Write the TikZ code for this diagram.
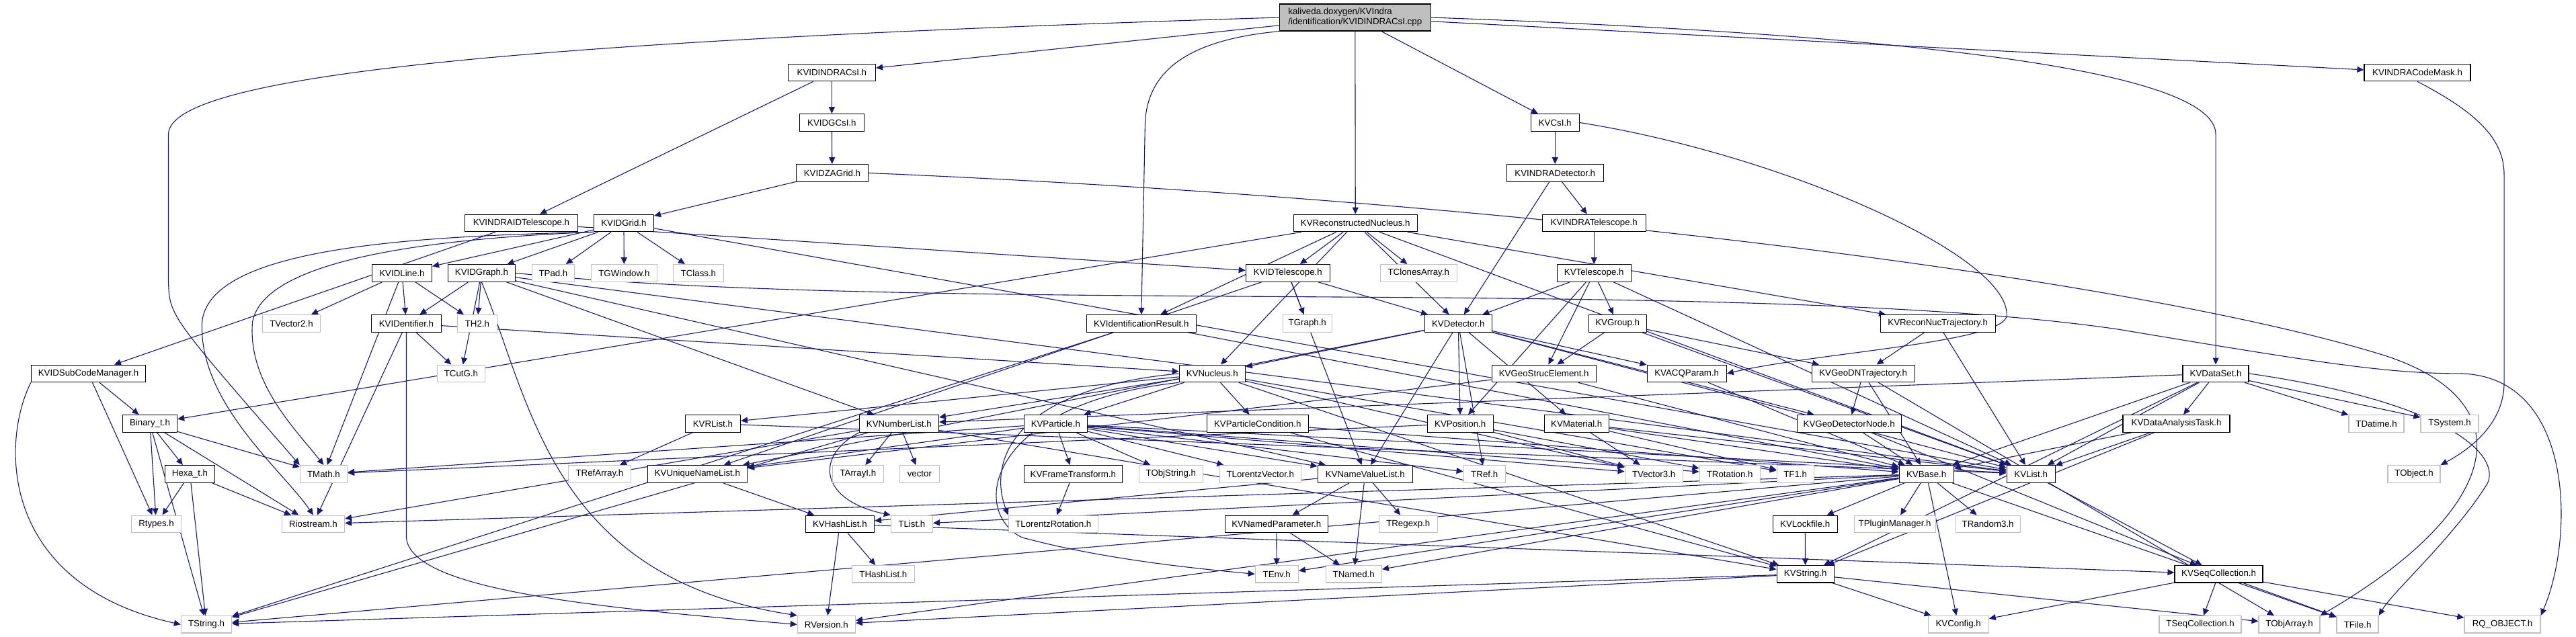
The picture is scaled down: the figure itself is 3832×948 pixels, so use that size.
\documentclass[tikz,border=0pt]{standalone}
\usepackage{fontspec}
\setmainfont{Liberation Sans}
\usetikzlibrary{arrows.meta}
\definecolor{edgec}{RGB}{25,25,112}
\definecolor{greyb}{RGB}{191,191,191}
\newcommand\nfont{\fontsize{13.3}{15}\selectfont}
\pgfdeclarelayer{paper}\pgfdeclarelayer{bg}\pgfsetlayers{paper,bg,main}
\tikzset{
 doc/.style={draw=black, line width=1.3pt, fill=white, inner sep=0pt, minimum height=25.5pt, font=\nfont},
 ext/.style={doc, draw=greyb},
 rootbox/.style={doc, fill=greyb, minimum height=40pt, align=left},
 edge/.style={draw=edgec, line width=1.1pt, -{Triangle[length=10pt,width=9pt]}},
}
\newcommand\nd[6]{\pgfmathsetmacro\ndw{#4-#3}\pgfmathsetmacro\ndx{(#3+#4)/2}\node[#1, minimum width=\ndw pt] (#2) at (\ndx, #5) {#6};}
\begin{document}
\begin{tikzpicture}[x=1pt,y=-1pt]
\begin{pgfonlayer}{paper}
\useasboundingbox[fill=white] (0,0) rectangle (3832,948);
\end{pgfonlayer}
% row 0
\nd{rootbox}{cpp}{1903}{2128}{26}{kaliveda.doxygen/KVIndra\\/identification/KVIDINDRACsI.cpp}
% row 1
\nd{doc}{idindracsi}{1172}{1302}{108}{KVIDINDRACsI.h}
\nd{doc}{codemask}{3517}{3675}{108}{KVINDRACodeMask.h}
% row 2
\nd{doc}{idgcsi}{1189}{1285}{182.5}{KVIDGCsI.h}
\nd{doc}{csi}{2277}{2349}{182.5}{KVCsI.h}
% row 3
\nd{doc}{idzagrid}{1184}{1291}{257.5}{KVIDZAGrid.h}
\nd{doc}{indradet}{2241}{2385}{257.5}{KVINDRADetector.h}
% row 4
\nd{doc}{indraidtel}{691}{859}{332}{KVINDRAIDTelescope.h}
\nd{doc}{idgrid}{883}{972}{332}{KVIDGrid.h}
\nd{doc}{recnuc}{1924}{2108}{332}{KVReconstructedNucleus.h}
\nd{doc}{indratel}{2294}{2448}{332}{KVINDRATelescope.h}
% row 5
\nd{doc}{idline}{553}{642}{406.5}{KVIDLine.h}
\nd{doc}{idgraph}{666}{766}{406.5}{KVIDGraph.h}
\nd{ext}{tpad}{791}{854}{406.5}{TPad.h}
\nd{ext}{tgwindow}{879}{977}{406.5}{TGWindow.h}
\nd{ext}{tclass}{1001}{1076}{406.5}{TClass.h}
\nd{doc}{idtel}{1853}{1978}{406.5}{KVIDTelescope.h}
\nd{ext}{tclonesarray}{2053}{2167}{406.5}{TClonesArray.h}
\nd{doc}{telescope}{2316}{2426}{406.5}{KVTelescope.h}
% row 6
\nd{ext}{tvector2}{390}{476}{481.5}{TVector2.h}
\nd{doc}{identifier}{552}{656}{481.5}{KVIDentifier.h}
\nd{ext}{th2}{680}{739}{481.5}{TH2.h}
\nd{doc}{idresult}{1616}{1779}{481.5}{KVIdentificationResult.h}
\nd{ext}{tgraph}{1908}{1981}{481.5}{TGraph.h}
\nd{doc}{detector}{2119}{2219}{481.5}{KVDetector.h}
\nd{doc}{group}{2363}{2449}{481.5}{KVGroup.h}
\nd{doc}{recnuctraj}{2797}{2968}{481.5}{KVReconNucTrajectory.h}
% row 7
\nd{doc}{subcode}{46}{216}{556}{KVIDSubCodeManager.h}
\nd{ext}{tcutg}{650}{721}{556}{TCutG.h}
\nd{doc}{nucleus}{1754}{1852}{556}{KVNucleus.h}
\nd{doc}{geostruc}{2219}{2374}{556}{KVGeoStrucElement.h}
\nd{doc}{acqparam}{2450}{2568}{556}{KVACQParam.h}
\nd{doc}{geodntraj}{2695}{2848}{556}{KVGeoDNTrajectory.h}
\nd{doc}{dataset}{3247}{3345}{556}{KVDataSet.h}
% row 8
\nd{doc}{binary}{182}{263}{630.5}{Binary\_t.h}
\nd{doc}{rlist}{1019}{1101}{630.5}{KVRList.h}
\nd{doc}{numberlist}{1278}{1396}{630.5}{KVNumberList.h}
\nd{doc}{particle}{1523}{1617}{630.5}{KVParticle.h}
\nd{doc}{partcond}{1795}{1946}{630.5}{KVParticleCondition.h}
\nd{doc}{position}{2123}{2221}{630.5}{KVPosition.h}
\nd{doc}{material}{2297}{2393}{630.5}{KVMaterial.h}
\nd{doc}{geodetnode}{2673}{2828}{630.5}{KVGeoDetectorNode.h}
\nd{doc}{dataanatask}{3158}{3317}{630.5}{KVDataAnalysisTask.h}
\nd{ext}{tdatime}{3494}{3576}{630.5}{TDatime.h}
\nd{ext}{tsystem}{3601}{3687}{630.5}{TSystem.h}
% row 9
\nd{doc}{hexa}{245}{319}{705.5}{Hexa\_t.h}
\nd{ext}{tmath}{446}{516}{705.5}{TMath.h}
\nd{ext}{trefarray}{845}{938}{705.5}{TRefArray.h}
\nd{doc}{uniquenamelist}{963}{1111}{705.5}{KVUniqueNameList.h}
\nd{ext}{tarrayi}{1238}{1314}{705.5}{TArrayI.h}
\nd{ext}{vector}{1338}{1397}{705.5}{vector}
\nd{doc}{frametrans}{1523}{1669}{705.5}{KVFrameTransform.h}
\nd{ext}{tobjstring}{1694}{1789}{705.5}{TObjString.h}
\nd{ext}{tlorentzvector}{1814}{1935}{705.5}{TLorentzVector.h}
\nd{doc}{namevaluelist}{1960}{2101}{705.5}{KVNameValueList.h}
\nd{ext}{tref}{2177}{2239}{705.5}{TRef.h}
\nd{ext}{tvector3}{2417}{2503}{705.5}{TVector3.h}
\nd{ext}{trotation}{2528}{2618}{705.5}{TRotation.h}
\nd{ext}{tf1}{2643}{2698}{705.5}{TF1.h}
\nd{doc}{base}{2825}{2906}{705.5}{KVBase.h}
\nd{doc}{list}{2985}{3057}{705.5}{KVList.h}
\nd{ext}{tobject}{3552}{3630}{705.5}{TObject.h}
% row 10
\nd{ext}{rtypes}{195}{269}{780}{Rtypes.h}
\nd{ext}{riostream}{419}{512}{780}{Riostream.h}
\nd{doc}{hashlist}{1198}{1300}{780}{KVHashList.h}
\nd{ext}{tlist}{1325}{1387}{780}{TList.h}
\nd{ext}{tlorentzrotation}{1500}{1633}{780}{TLorentzRotation.h}
\nd{doc}{namedparam}{1822}{1975}{780}{KVNamedParameter.h}
\nd{ext}{tregexp}{2051}{2138}{780}{TRegexp.h}
\nd{doc}{lockfile}{2637}{2733}{780}{KVLockfile.h}
\nd{ext}{tpluginmanager}{2758}{2879}{780}{TPluginManager.h}
\nd{ext}{trandom3}{2909}{3005}{780}{TRandom3.h}
% row 11
\nd{ext}{thashlist}{1267}{1360}{854.5}{THashList.h}
\nd{ext}{tenv}{1867}{1931}{854.5}{TEnv.h}
\nd{ext}{tnamed}{1972}{2055}{854.5}{TNamed.h}
\nd{doc}{string}{2643}{2728}{854.5}{KVString.h}
\nd{doc}{seqcoll}{3235}{3366}{854.5}{KVSeqCollection.h}
% row 12
\nd{ext}{tstring}{269}{344}{929.5}{TString.h}
\nd{ext}{rversion}{1186}{1272}{929.5}{RVersion.h}
\nd{ext}{config}{2868}{2958}{929.5}{KVConfig.h}
\nd{ext}{tseqcoll}{3212}{3334}{929.5}{TSeqCollection.h}
\nd{ext}{tobjarray}{3360}{3451}{929.5}{TObjArray.h}
\nd{ext}{tfile}{3476}{3538}{929.5}{TFile.h}
\nd{ext}{rqobject}{3666}{3779}{929.5}{RQ\_OBJECT.h}

\begin{pgfonlayer}{bg}
\foreach \a/\b in {cpp/idindracsi, cpp/csi, cpp/codemask, cpp/recnuc,
 idindracsi/idgcsi, idindracsi/indraidtel, idgcsi/idzagrid, csi/indradet, idzagrid/idgrid,
 indradet/indratel, indradet/detector, indraidtel/idtel, indraidtel/subcode,
 idgrid/idline, idgrid/idgraph, idgrid/tpad, idgrid/tgwindow, idgrid/tclass, idgrid/list,
 idline/tvector2, idline/identifier, idline/th2, idline/tmath,
 idgraph/identifier, idgraph/th2, idgraph/tcutg, idgraph/numberlist, idgraph/namevaluelist, idgraph/list,
 identifier/tcutg, identifier/riostream, identifier/nucleus,
 idtel/tgraph, idtel/detector, idtel/uniquenamelist, idtel/namevaluelist,
 recnuc/nucleus, recnuc/idresult, recnuc/idtel, recnuc/tclonesarray, recnuc/detector, recnuc/recnuctraj, recnuc/list, recnuc/binary,
 idresult/tstring, idresult/base, indratel/telescope,
 telescope/detector, telescope/group, telescope/geostruc, telescope/position, telescope/list,
 group/geostruc, group/geodntraj, group/list, recnuctraj/geodntraj, recnuctraj/list,
 geodntraj/geodetnode, geodntraj/base, geodntraj/tobjarray, geodetnode/base, geodetnode/seqcoll,
 geostruc/base, geostruc/uniquenamelist, acqparam/base,
 position/tvector3, position/trotation, position/tmath,
 material/tvector3, material/tf1, material/base, material/list,
 detector/material, detector/position, detector/acqparam, detector/geodetnode, detector/list, detector/nucleus, detector/uniquenamelist, detector/namevaluelist, detector/tref,
 nucleus/particle, nucleus/numberlist, nucleus/partcond, nucleus/tvector3, nucleus/tf1, nucleus/string, nucleus/rlist,
 particle/frametrans, particle/tobjstring, particle/tlorentzvector, particle/uniquenamelist, particle/tvector3, particle/namevaluelist, particle/list, particle/tmath, particle/tref, particle/trotation,
 frametrans/tlorentzrotation, partcond/base, partcond/string,
 numberlist/tarrayi, numberlist/vector, numberlist/tstring, numberlist/riostream, numberlist/string,
 rlist/trefarray, rlist/list, uniquenamelist/hashlist,
 hashlist/thashlist, hashlist/rversion, hashlist/seqcoll,
 namevaluelist/namedparam, namevaluelist/tnamed, namevaluelist/tregexp, namevaluelist/hashlist,
 namedparam/tenv, namedparam/tnamed,
 base/tnamed, base/rversion, base/tstring, base/config, base/trandom3, base/tpluginmanager, base/lockfile, base/riostream, base/tfile, base/tlist, base/tenv,
 list/seqcoll, seqcoll/tseqcoll, seqcoll/config, seqcoll/tfile, seqcoll/rqobject,
 string/tstring, string/rversion, string/config, string/tobjarray, lockfile/string,
 dataset/base, dataset/list, dataset/dataanatask, dataset/tdatime, dataset/tsystem, dataset/string, dataset/numberlist,
 dataanatask/base, dataanatask/list, dataanatask/string,
 subcode/binary, subcode/rtypes,
 binary/hexa, binary/rtypes, binary/tstring, binary/tmath, binary/riostream,
 hexa/rtypes, hexa/tstring, hexa/riostream}
 \draw[edge] (\a) -- (\b);
% curved connectors
\draw[edge] (cpp.west) .. controls (800,60) and (250,110) .. (250,200) -- (250,420) .. controls (252,470) .. (tmath.north west);
\draw[edge] (cpp.south west) .. controls (1760,60) and (1703,110) .. (1703,190) -- (idresult.north);
\draw[edge] (cpp.east) .. controls (2800,50) and (3296,100) .. (3296,200) -- (dataset.north);
\draw[edge] (codemask.south) .. controls (3690,170) and (3725,210) .. (3725,260) -- (3725,570) .. controls (3725,620) and (3690,660) .. (tobject.north east);
\draw[edge] (csi.east) .. controls (2650,230) and (2990,380) .. (2985,470) .. controls (2980,510) and (2700,525) .. (acqparam.east);
\draw[edge] (idzagrid.east) .. controls (2300,300) and (3200,420) .. (3550,530) .. controls (3760,600) and (3720,760) .. (tobjarray.north east);
\draw[edge] (idgraph.east) .. controls (1400,470) and (2600,410) .. (3150,490) .. controls (3450,540) and (3550,556) .. (3660,556) .. controls (3830,560) and (3830,800) .. (rqobject.north east);
\draw[edge] (dataset.east) .. controls (3650,600) and (3720,680) .. (3700,720) .. controls (3650,800) and (3560,880) .. (tfile.north east);
\draw[edge] (subcode.south west) .. controls (0,660) and (0,870) .. (tstring.west);
\draw[edge] (idgrid.south west) .. controls (600,352) and (310,370) .. (300,480) .. controls (295,600) and (420,700) .. (riostream.north);
\draw[edge] (idgrid.south west) .. controls (620,356) and (390,390) .. (375,480) .. controls (368,570) and (440,640) .. (tmath.north);
\draw[edge] (identifier.south) -- (604,800) .. controls (610,880) and (900,905) .. (rversion.west);
\draw[edge] (idgraph.south) .. controls (790,600) and (820,860) .. (rversion.north west);
\draw[edge] (nucleus.south west) .. controls (1470,600) and (1440,760) .. (1520,800) .. controls (1650,835) and (1800,848) .. (tenv.west);
\draw[edge] (nucleus.west) .. controls (1500,580) and (1470,690) .. (tlorentzrotation.north west);
\draw[edge] (numberlist.south west) .. controls (1210,680) and (1220,745) .. (tlist.north west);
\end{pgfonlayer}
\end{tikzpicture}
\end{document}
